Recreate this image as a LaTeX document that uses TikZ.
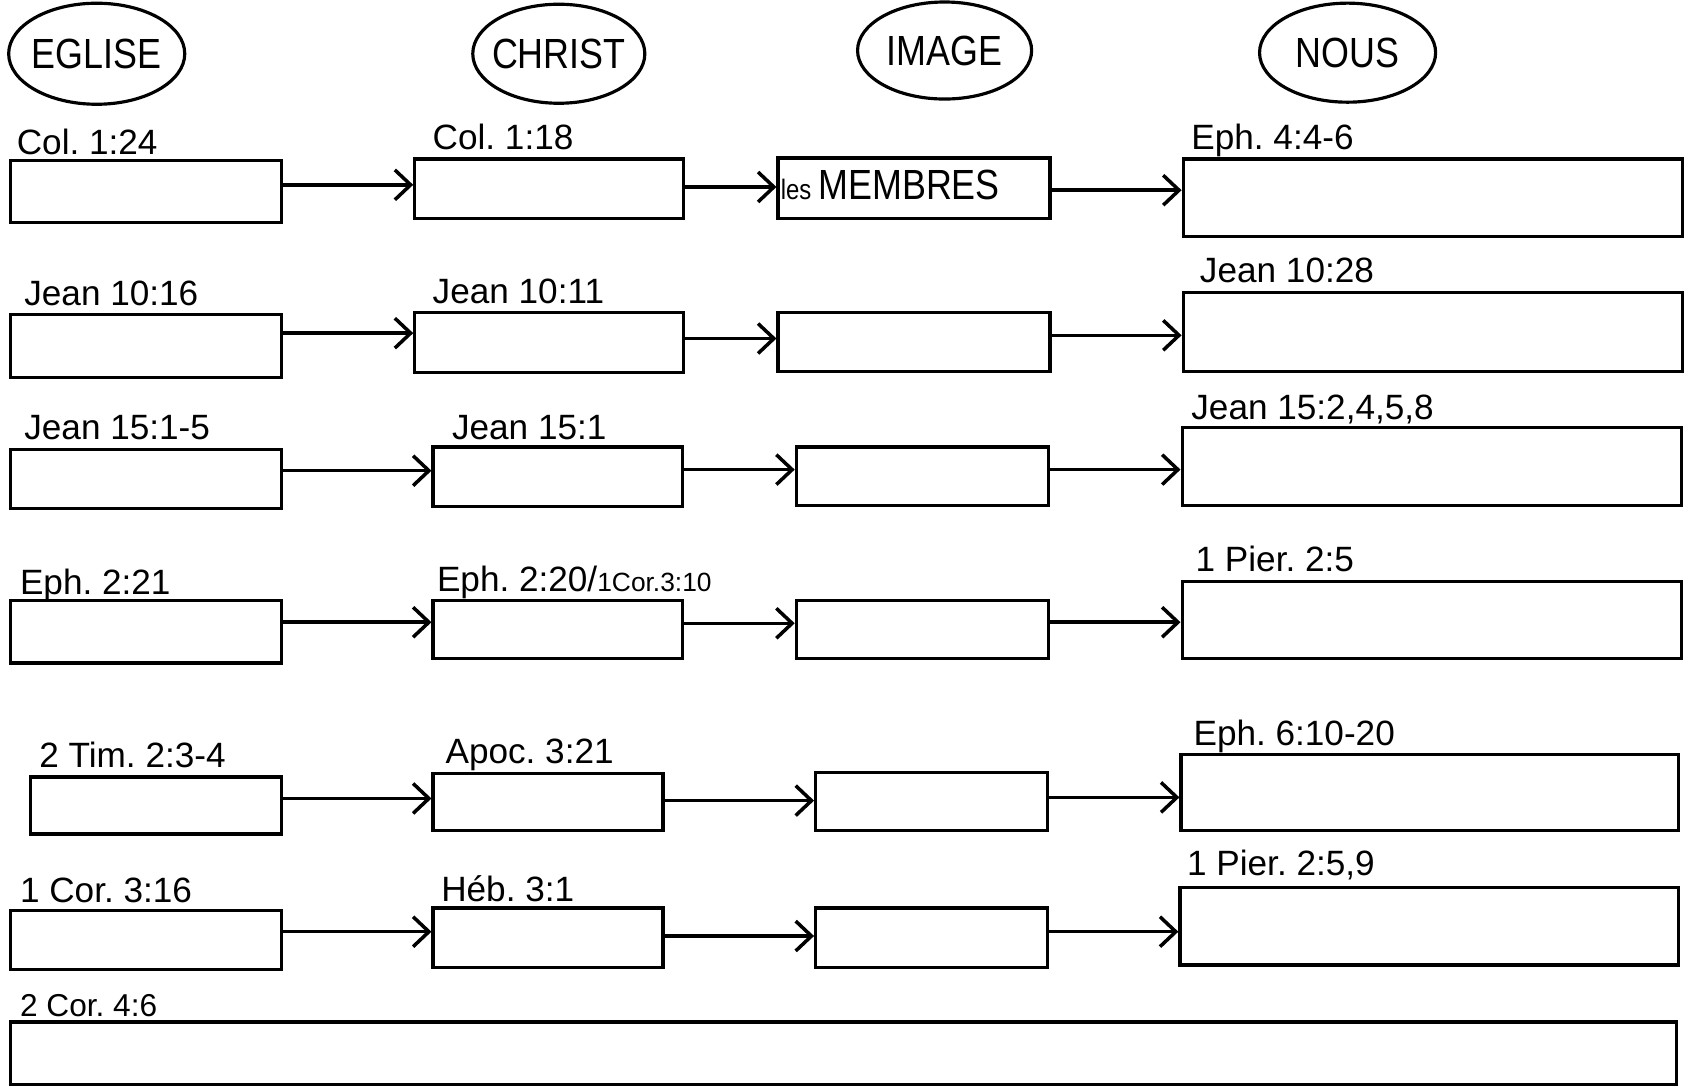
\documentclass[tikz,border=0pt]{standalone}
\usepackage{fontspec}
\setmainfont{Liberation Sans}
\newfontfamily\narrowfont[FakeStretch=0.85]{Liberation Sans}
\usetikzlibrary{fit,arrows.meta,shapes.geometric}
\frenchspacing
\begin{document}
\begin{tikzpicture}[x=0.010746cm, y=-0.010746cm]
\tikzset{
 box/.style={draw, line width=0.9pt, inner sep=0pt, rectangle},
 head/.style={draw, ellipse, line width=0.9pt, inner sep=0pt},
 headtext/.style={font=\narrowfont\fontsize{12}{14}\selectfont},
 ref/.style={anchor=base west, inner sep=0pt, font=\fontsize{10}{12}\selectfont},
 arr/.style={line width=1pt, -{Straight Barb[length=4.5pt,width=8.5pt]}},
}
\useasboundingbox (0,0) rectangle (1568,1012.5);

% headers
\node[head, minimum width=1.76cm, minimum height=1.01cm] (eglise) at (90,50) {};
\node[headtext] (teglise) at (eglise.center) {EGLISE};
\node[head, minimum width=1.72cm, minimum height=0.99cm] (christ) at (520,50) {};
\node[headtext] (tchrist) at (christ.center) {CHRIST};
\node[head, minimum width=1.74cm, minimum height=0.97cm] (image) at (879,47) {};
\node[headtext] (timage) at (image.center) {IMAGE};
\node[head, minimum width=1.76cm, minimum height=0.99cm] (nous) at (1254,49) {};
\node[headtext] (tnous) at (nous.center) {NOUS};

% arrow levels
\path (0,172) coordinate (y11) (0,174) coordinate (y12) (0,177) coordinate (y13)
      (0,310) coordinate (y21) (0,315) coordinate (y22) (0,312) coordinate (y23)
      (0,438) coordinate (y31) (0,437) coordinate (y32) (0,437) coordinate (y33)
      (0,579) coordinate (y41) (0,580) coordinate (y42) (0,579) coordinate (y43)
      (0,743) coordinate (y51) (0,745) coordinate (y52) (0,742) coordinate (y53)
      (0,867) coordinate (y61) (0,871) coordinate (y62) (0,867) coordinate (y63);

% row 1
\node[box, fit={(10,149)(262,207)}] (e1) {};
\node[box, fit={(386,148)(636,203)}] (c1) {};
\node[box, fit={(724,147)(977,203)}] (i1) {};
\node[box, fit={(1101,148)(1566,220)}] (n1) {};
\node[ref] (le1) at (15,144) {Col. 1:24};
\node[ref] (lc1) at (402,139) {Col. 1:18};
\node[ref] (ln1) at (1108,139) {Eph. 4:4-6};
\node[anchor=base west, inner sep=0pt, font=\narrowfont\fontsize{12}{14}\selectfont] (membres) at (726,186) {{\fontsize{8}{9}\selectfont les}\,MEMBRES};

% row 2
\node[box, fit={(10,293)(262,351)}] (e2) {};
\node[box, fit={(386,291)(636,347)}] (c2) {};
\node[box, fit={(724,291)(977,346)}] (i2) {};
\node[box, fit={(1101,272)(1566,346)}] (n2) {};
\node[ref] (le2) at (22,284) {Jean 10:16};
\node[ref] (lc2) at (402,282) {Jean 10:11};
\node[ref] (ln2) at (1116,263) {Jean 10:28};

% row 3
\node[box, fit={(10,418)(262,473)}] (e3) {};
\node[box, fit={(403,416)(635,471)}] (c3) {};
\node[box, fit={(741,416)(976,470)}] (i3) {};
\node[box, fit={(1100,398)(1565,470)}] (n3) {};
\node[ref] (le3) at (22,409) {Jean 15:1-5};
\node[ref] (lc3) at (420,409) {Jean 15:1};
\node[ref] (ln3) at (1108,390) {Jean 15:2,4,5,8};

% row 4
\node[box, fit={(10,559)(262,617)}] (e4) {};
\node[box, fit={(403,559)(635,613)}] (c4) {};
\node[box, fit={(741,559)(976,613)}] (i4) {};
\node[box, fit={(1100,541)(1565,613)}] (n4) {};
\node[ref] (le4) at (18,553) {Eph. 2:21};
\node[ref] (lc4) at (406,550) {Eph. 2:20/{\fontsize{7.5}{9}\selectfont 1Cor.3:10}};
\node[ref] (ln4) at (1112,532) {1 Pier. 2:5};

% row 5
\node[box, fit={(28,723)(262,776)}] (e5) {};
\node[box, fit={(403,720)(617,773)}] (c5) {};
\node[box, fit={(759,719)(975,773)}] (i5) {};
\node[box, fit={(1099,702)(1562,773)}] (n5) {};
\node[ref] (le5) at (36,714) {2 Tim. 2:3-4};
\node[ref] (lc5) at (414,710) {Apoc. 3:21};
\node[ref] (ln5) at (1110,694) {Eph. 6:10-20};

% row 6
\node[box, fit={(10,847)(262,902)}] (e6) {};
\node[box, fit={(403,845)(617,900)}] (c6) {};
\node[box, fit={(759,845)(975,900)}] (i6) {};
\node[box, fit={(1098,826)(1562,898)}] (n6) {};
\node[ref] (le6) at (18,840) {1 Cor. 3:16};
\node[ref] (lc6) at (410,839) {Héb. 3:1};
\node[ref] (ln6) at (1104,815) {1 Pier. 2:5,9};

% row 7
\node[box, fit={(10,951)(1560,1009)}] (w7) {};
\node[ref, font=\fontsize{9}{11}\selectfont] (lw7) at (18,946) {2 Cor. 4:6};

% arrows
\foreach \r in {1,...,6}{
  \draw[arr] (e\r.east |- y\r1) -- (c\r.west |- y\r1);
  \draw[arr] (c\r.east |- y\r2) -- (i\r.west |- y\r2);
  \draw[arr] (i\r.east |- y\r3) -- (n\r.west |- y\r3);
}
\end{tikzpicture}
\end{document}
